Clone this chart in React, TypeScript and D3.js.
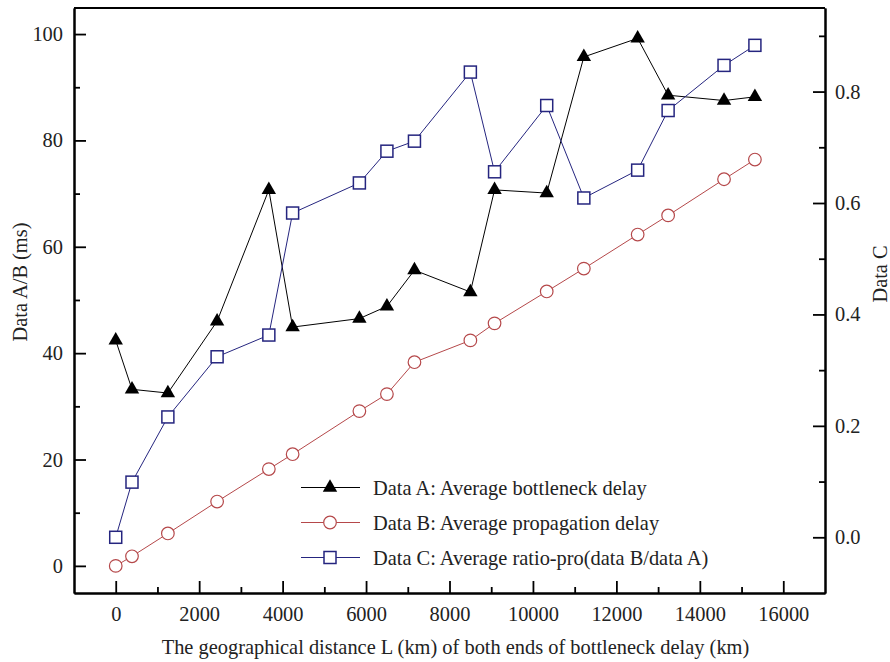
import React, { useEffect, useRef } from "react";
import * as d3 from "d3";

// distance (km) of each measurement
const distances = [0, 390, 1250, 2430, 3670, 4240, 5840, 6500, 7160, 8500, 9080, 10330, 11220, 12510, 13240, 14580, 15320];
// Data A: average bottleneck delay (ms)
const dataA = [42.4, 33.2, 32.5, 46.0, 70.7, 44.9, 46.5, 48.8, 55.6, 51.5, 70.7, 70.1, 95.7, 99.2, 88.5, 87.5, 88.2];
// Data B: average propagation delay (ms)
const dataB = [0, 1.8, 6.1, 12.1, 18.2, 21.0, 29.1, 32.3, 38.3, 42.4, 45.6, 51.6, 55.9, 62.3, 65.9, 72.7, 76.4];
// Data C: ratio (right axis)
const dataC = [0.0, 0.099, 0.216, 0.324, 0.363, 0.582, 0.636, 0.693, 0.711, 0.835, 0.656, 0.775, 0.609, 0.659, 0.766, 0.847, 0.883];

const xTicks = [0, 2000, 4000, 6000, 8000, 10000, 12000, 14000, 16000];
const xMinor = [1000, 3000, 5000, 7000, 9000, 11000, 13000, 15000];
const leftTicks = [0, 20, 40, 60, 80, 100];
const leftMinor = [10, 30, 50, 70, 90];
const rightTicks = [0.0, 0.2, 0.4, 0.6, 0.8];
const rightMinor = [0.1, 0.3, 0.5, 0.7, 0.9];

const legendLabels = [
  "Data A: Average bottleneck delay",
  "Data B: Average propagation delay",
  "Data C: Average ratio-pro(data B/data A)",
];

const W = 890, H = 662;
const left = 74, right = 825, top = 8, bottom = 593;
const FONT = "'Liberation Serif', 'Times New Roman', serif";
const FS = 20.4;
const colA = "#000000", colB = "#b5484a", colC = "#25257f";

function drawChart(el: SVGSVGElement) {
  const svg = d3.select(el);
  svg.selectAll("*").remove();

  const x = d3.scaleLinear().domain([-1000, 17000]).range([left, right]);
  const yL = d3.scaleLinear().domain([-5.1, 104.9]).range([bottom, top]);
  const yR = d3.scaleLinear().domain([-0.1, 0.95]).range([bottom, top]);

  const styleAxis = (g: any) => {
    g.selectAll("path.domain").attr("stroke-width", 2);
    g.selectAll(".tick line").attr("stroke-width", 1.8);
    g.selectAll("text").attr("font-family", FONT).attr("font-size", FS).attr("fill", "#222");
  };

  // minor ticks
  svg.append("g").attr("transform", `translate(0,${bottom})`)
    .call(d3.axisBottom(x).tickValues(xMinor).tickSizeInner(-6).tickSizeOuter(0).tickFormat(() => ""))
    .call(styleAxis);
  svg.append("g").attr("transform", `translate(${left},0)`)
    .call(d3.axisLeft(yL).tickValues(leftMinor).tickSizeInner(-6).tickSizeOuter(0).tickFormat(() => ""))
    .call(styleAxis);
  svg.append("g").attr("transform", `translate(${right},0)`)
    .call(d3.axisRight(yR).tickValues(rightMinor).tickSizeInner(-6).tickSizeOuter(0).tickFormat(() => ""))
    .call(styleAxis);

  // major ticks
  svg.append("g").attr("transform", `translate(0,${bottom})`)
    .call(d3.axisBottom(x).tickValues(xTicks).tickSizeInner(-12).tickSizeOuter(0).tickPadding(14).tickFormat(d3.format("d")))
    .call(styleAxis);
  svg.append("g").attr("transform", `translate(${left},0)`)
    .call(d3.axisLeft(yL).tickValues(leftTicks).tickSizeInner(-12).tickSizeOuter(0).tickPadding(11).tickFormat(d3.format("d")))
    .call(styleAxis);
  svg.append("g").attr("transform", `translate(${right},0)`)
    .call(d3.axisRight(yR).tickValues(rightTicks).tickSizeInner(-12).tickSizeOuter(0).tickPadding(10).tickFormat(d3.format(".1f")))
    .call(styleAxis);

  // top border
  svg.append("line").attr("x1", left).attr("x2", right).attr("y1", top).attr("y2", top)
    .attr("stroke", "#000").attr("stroke-width", 2);

  const idx = d3.range(distances.length);
  const lineL = (vals: number[]) => d3.line<number>().x(i => x(distances[i])).y(i => yL(vals[i]))(idx);
  const lineR = (vals: number[]) => d3.line<number>().x(i => x(distances[i])).y(i => yR(vals[i]))(idx);

  const tri = d3.symbol().type(d3.symbolTriangle).size(90)();

  // Data A
  svg.append("path").attr("d", lineL(dataA)).attr("fill", "none").attr("stroke", colA).attr("stroke-width", 1);
  svg.append("g").selectAll("path").data(idx).join("path")
    .attr("d", tri).attr("transform", i => `translate(${x(distances[i])},${yL(dataA[i])})`).attr("fill", colA);

  // Data B
  svg.append("path").attr("d", lineL(dataB)).attr("fill", "none").attr("stroke", colB).attr("stroke-width", 1);
  svg.append("g").selectAll("circle").data(idx).join("circle")
    .attr("cx", i => x(distances[i])).attr("cy", i => yL(dataB[i])).attr("r", 6.3)
    .attr("fill", "#fff").attr("stroke", colB).attr("stroke-width", 1.2);

  // Data C
  svg.append("path").attr("d", lineR(dataC)).attr("fill", "none").attr("stroke", colC).attr("stroke-width", 1);
  svg.append("g").selectAll("rect").data(idx).join("rect")
    .attr("x", i => x(distances[i]) - 6).attr("y", i => yR(dataC[i]) - 6).attr("width", 12).attr("height", 12)
    .attr("fill", "#fff").attr("stroke", colC).attr("stroke-width", 1.5);

  // legend
  const legY = [487.5, 522.5, 557.5];
  const lg = svg.append("g");
  const lc = [colA, colB, colC];
  legendLabels.forEach((label, k) => {
    const y = legY[k];
    lg.append("line").attr("x1", 301).attr("x2", 360).attr("y1", y).attr("y2", y).attr("stroke", lc[k]).attr("stroke-width", 1);
    if (k === 0) lg.append("path").attr("d", tri).attr("transform", `translate(330,${y})`).attr("fill", colA);
    if (k === 1) lg.append("circle").attr("cx", 330).attr("cy", y).attr("r", 6.3).attr("fill", "#fff").attr("stroke", colB).attr("stroke-width", 1.2);
    if (k === 2) lg.append("rect").attr("x", 324).attr("y", y - 6).attr("width", 12).attr("height", 12).attr("fill", "#fff").attr("stroke", colC).attr("stroke-width", 1.5);
    lg.append("text").attr("x", 373).attr("y", y + 7).text(label)
      .attr("font-family", FONT).attr("font-size", FS).attr("fill", "#222");
  });

  // axis titles
  svg.append("text").attr("x", 455.5).attr("y", 654).attr("text-anchor", "middle")
    .attr("font-family", FONT).attr("font-size", FS).attr("fill", "#222")
    .text("The geographical distance L (km) of both ends of bottleneck delay (km)");
  svg.append("text").attr("transform", "translate(27,282) rotate(-90)").attr("text-anchor", "middle")
    .attr("font-family", FONT).attr("font-size", FS).attr("fill", "#222")
    .text("Data A/B (ms)");
  svg.append("text").attr("transform", "translate(887,274) rotate(-90)").attr("text-anchor", "middle")
    .attr("font-family", FONT).attr("font-size", FS).attr("fill", "#222")
    .text("Data C");
}

export default function App() {
  const ref = useRef<SVGSVGElement>(null);
  useEffect(() => {
    if (ref.current) drawChart(ref.current);
  }, []);
  return (
    <svg ref={ref} width={W} height={H} viewBox={`0 0 ${W} ${H}`}
      style={{ position: "absolute", left: 0, top: 0, background: "#fff" }} />
  );
}
